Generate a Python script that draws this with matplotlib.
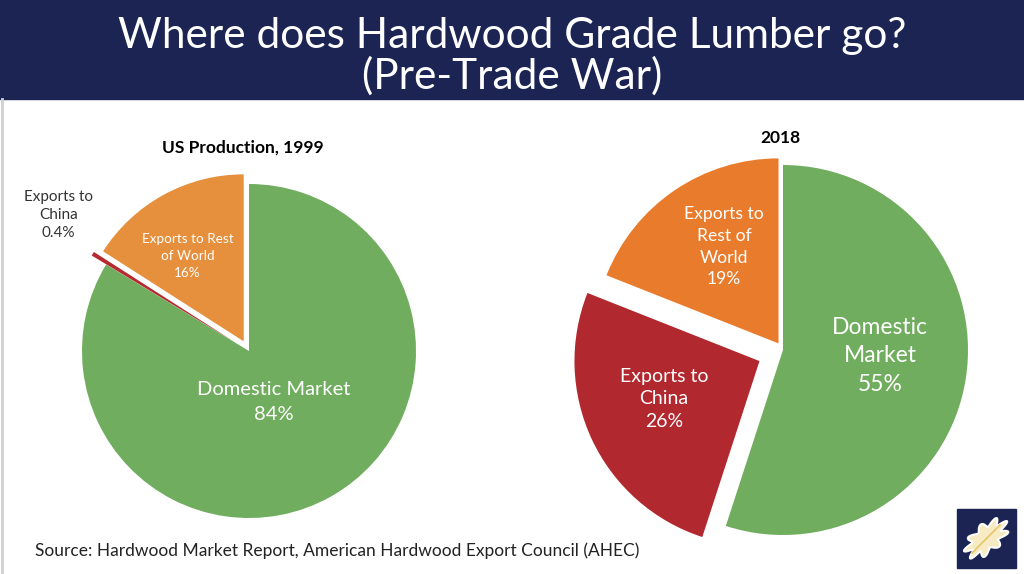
import matplotlib.pyplot as plt
from matplotlib.patches import Rectangle, Polygon
import numpy as np

# data
labels = ['Domestic Market', 'Exports to China', 'Exports to Rest of World']
shares_1999 = [84, 0.4, 16]
shares_2018 = [55, 26, 19]
text_1999 = ['Domestic Market\n84%', 'Exports to\nChina\n0.4%', 'Exports to Rest\nof World\n16%']
text_2018 = ['Domestic\nMarket\n55%', 'Exports to\nChina\n26%', 'Exports to\nRest of\nWorld\n19%']

plt.rcParams['font.family'] = ['Lato', 'DejaVu Sans']

W, H = 1024, 574
fig = plt.figure(figsize=(W / 100, H / 100), dpi=100)
ax = fig.add_axes([0, 0, 1, 1])

navy = '#1b2453'
green = '#70ad5e'

# header band
ax.add_patch(Rectangle((0, H - 99), W, 99, color=navy, zorder=0))
ax.text(W / 2, H - 36, 'Where does Hardwood Grade Lumber go?', color='white',
        fontsize=30.5, ha='center', va='center')
ax.text(W / 2, H - 76, '(Pre-Trade War)', color='white',
        fontsize=30.5, ha='center', va='center')
ax.plot([1.5, 1.5], [0, H - 99], color='#d0d0d0', lw=2)

# left pie, 1999  (explode is in data units here, i.e. pixels)
r1 = 167
w1, _ = ax.pie(shares_1999, colors=[green, '#b52a2f', '#e6903d'],
               startangle=90, counterclock=False, center=(249, H - 351),
               radius=r1, explode=[0, 17, 11],
               wedgeprops=dict(linewidth=0), frame=True)
# right pie, 2018
r2 = 185
w2, _ = ax.pie(shares_2018, colors=[green, '#b2282f', '#e97b2c'],
               startangle=90, counterclock=False, center=(783, H - 350),
               radius=r2, explode=[0, 26, 8],
               wedgeprops=dict(linewidth=0), frame=True)


def put_label(w, txt, frac, size, color='white', dang=0, ls=1.3):
    ang = np.deg2rad((w.theta1 + w.theta2) / 2 + dang)
    cx, cy = w.center
    x = cx + frac * w.r * np.cos(ang)
    y = cy + frac * w.r * np.sin(ang)
    ax.text(x, y, txt, ha='center', va='center', color=color,
            fontsize=size, linespacing=ls)


put_label(w1[0], text_1999[0], 0.338, 14.5, dang=-3.6, ls=1.55)
put_label(w1[1], text_1999[1], 1.30, 11, color='#333333', dang=-4, ls=1.35)
put_label(w1[2], text_1999[2], 0.61, 9.7, dang=4.7, ls=1.5)
put_label(w2[0], text_2018[0], 0.525, 16.5, dang=5.5, ls=1.45)
put_label(w2[1], text_2018[1], 0.554, 14, dang=-3.6, ls=1.38)
put_label(w2[2], text_2018[2], 0.6, 12.6, dang=-4.9, ls=1.45)

ax.text(243, H - 148, 'US Production, 1999', fontsize=12.5, fontweight='bold',
        ha='center', va='center', color='black')
ax.text(780, H - 138, '2018', fontsize=12.5, fontweight='bold',
        ha='center', va='center', color='black')

ax.text(35, H - 551, 'Source: Hardwood Market Report, American Hardwood Export Council (AHEC)',
        fontsize=12.5, ha='left', va='center', color='#222222')

# little leaf logo
ax.add_patch(Rectangle((957, H - 568), 59, 59, color=navy))
t = np.linspace(0, 2 * np.pi, 300)
rr = 1 + 0.22 * np.cos(9 * t)
lx, ly = 0.55 * rr * np.cos(t), 0.3 * rr * np.sin(t)
a = np.deg2rad(40)
px = 986.5 + 40 * (lx * np.cos(a) - ly * np.sin(a))
py = H - 538.5 + 40 * (lx * np.sin(a) + ly * np.cos(a))
ax.add_patch(Polygon(np.column_stack([px, py]), facecolor='#f6ebc2',
                     edgecolor='white', lw=1.5))
ax.plot([972, 1000], [H - 553, H - 525], color='#e8c66a', lw=1.2)

ax.set_xlim(0, W)
ax.set_ylim(0, H)
ax.set_aspect('auto')
ax.axis('off')
fig.savefig('out.png', dpi=100, facecolor='white')
